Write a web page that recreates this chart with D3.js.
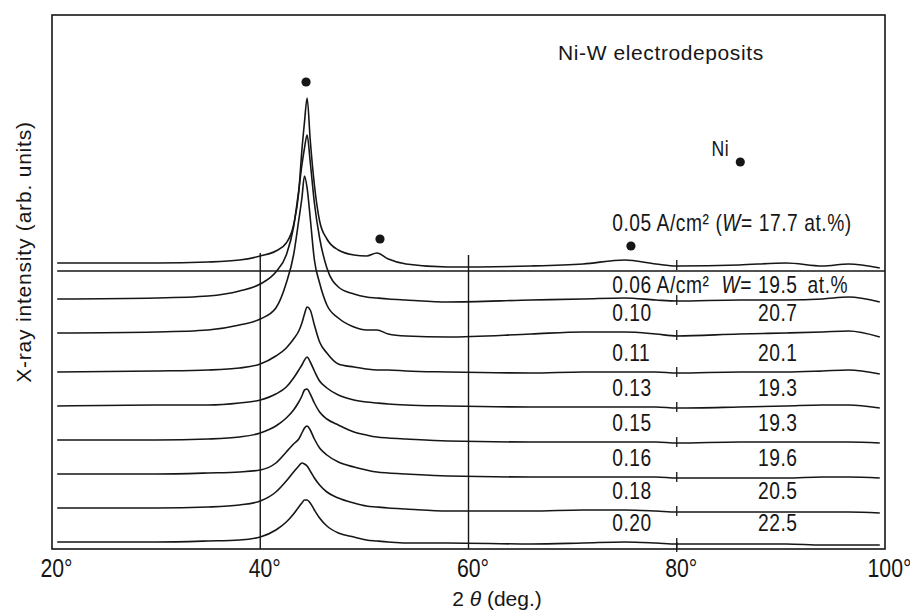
<!DOCTYPE html>
<html>
<head>
<meta charset="utf-8">
<script src="https://cdn.jsdelivr.net/npm/d3@7"></script>
<style>
  body { margin: 0; background: #fff; }
  svg text { font-family: "Liberation Sans", Arial, sans-serif; fill: #161616; }
</style>
</head>
<body>
<div id="chart"></div>
<script>
const twoTheta = [20.5, 30, 35, 38, 40, 41.5, 42.5, 43.2, 43.7, 44.0, 44.25, 44.5, 44.8, 45.2, 45.7, 46.4,
  47.5, 49, 50.2, 51.2, 52.3, 54, 58, 66, 71, 75, 78, 80, 86, 90.5, 94, 96.5, 99.5];

// current density (A/cm2) and W content (at.%) of each deposit, top to bottom
const densities = ["0.05", "0.06", "0.10", "0.11", "0.13", "0.15", "0.16", "0.18", "0.20"];
const wContent = ["17.7", "19.5", "20.7", "20.1", "19.3", "19.3", "19.6", "20.5", "22.5"];

// intensity, arb. units (scans are stacked, offset already in)
const scan005 = [286, 286, 287, 289, 293, 298, 306, 324, 357, 399, 427, 451, 409, 364, 328, 310,
  299, 294, 293, 296, 290, 285, 282, 283, 285, 289, 285, 283, 284, 286, 283, 285, 281];
const scan006 = [250, 251, 253, 258, 265, 277, 294, 322, 359, 384, 401, 414, 387, 346, 311, 281,
  262, 255, 252, 251, 250, 249, 247, 249, 250, 251, 249, 248, 249, 249, 250, 252, 247];
const scan010 = [216, 217, 219, 224, 230, 241, 266, 294, 329, 351, 373, 361, 331, 289, 266, 244,
  231, 222, 219, 219, 215, 213, 212, 215, 217, 217, 215, 213, 215, 216, 217, 218, 212];
const scan011 = [177, 178, 179, 181, 185, 193, 201, 210, 218, 226, 235, 242, 239, 224, 207, 196,
  185, 182, 180, 179, 179, 178, 177, 176, 177, 177, 177, 176, 177, 177, 178, 179, 175];
const scan013 = [143, 144, 144, 146, 149, 155, 162, 171, 179, 184, 189, 192, 187, 178, 168, 161,
  154, 149, 147, 146, 145, 144, 143, 142, 142, 142, 142, 141, 142, 143, 144, 144, 141];
const scan015 = [109, 109, 110, 112, 116, 123, 131, 139, 147, 153, 159, 160, 155, 146, 137, 130,
  124, 117, 114, 112, 111, 110, 108, 107, 107, 107, 107, 106, 107, 107, 107, 107, 106];
const scan016 = [75, 75, 76, 77, 79, 86, 97, 105, 110, 116, 121, 123, 119, 110, 101, 94,
  87, 82, 79, 77, 76, 75, 73, 72, 72, 72, 72, 71, 71, 71, 72, 72, 71];
const scan018 = [41, 41, 42, 44, 48, 57, 68, 77, 83, 86, 85, 83, 78, 71, 64, 57,
  51, 46, 43, 42, 41, 40, 38, 38, 39, 39, 38, 37, 37, 37, 37, 37, 36];
const scan020 = [7, 7, 8, 9, 12, 19, 27, 35, 42, 46, 49, 49, 46, 39, 31, 23,
  16, 12, 9, 8, 7, 6, 6, 5, 6, 7, 6, 5, 5, 5, 4, 4, 4];
const scans = [scan005, scan006, scan010, scan011, scan013, scan015, scan016, scan018, scan020];

// Ni reflections marked on the top scan
const niPeakTheta = [44.4, 51.5, 75.6];
const niPeakLevel = [467, 310, 303];

// straight reference line under the top scan, and the guide lines
const refLevel = 278;
const guideTheta = [40, 60];
const guideTop = [296, 294];
const markTheta = 80;

const xTicks = [20, 40, 60, 80, 100];

// canvas
const width = 910;
const height = 615;
const plotLeft = 52, plotRight = 885, plotTop = 15, plotBottom = 549;

const svg = d3.select("#chart")
  .append("svg")
  .attr("width", width)
  .attr("height", height);

const x = d3.scaleLinear().domain([20, 100]).range([plotLeft, plotRight]);
const y = d3.scaleLinear().domain([0, 534]).range([plotBottom, plotTop]);

const ink = "#161616";

// the figure's lettering is a narrow plotter face, so squeeze Liberation Sans a bit
function label(px, py, size, anchor) {
  return svg.append("text")
    .attr("transform", `translate(${px},${py}) scale(0.8,1)`)
    .attr("text-anchor", anchor || "start")
    .style("font-size", size + "px")
    .style("letter-spacing", "0.7px");
}

// frame
svg.append("rect")
  .attr("x", plotLeft)
  .attr("y", plotTop)
  .attr("width", plotRight - plotLeft)
  .attr("height", plotBottom - plotTop)
  .attr("fill", "none")
  .attr("stroke", ink)
  .attr("stroke-width", 1.6);

// x axis labels
const xAxis = svg.append("g")
  .attr("transform", `translate(0,${plotBottom})`)
  .call(d3.axisBottom(x).tickValues(xTicks).tickSize(0).tickPadding(0)
    .tickFormat(d => d + "°"));
xAxis.select(".domain").remove();
xAxis.selectAll("text")
  .attr("y", 0)
  .attr("dy", 0)
  .attr("transform", "translate(4,28) scale(0.85,1)")
  .style("font-size", "25px")
  .attr("fill", ink);

// guide lines at 40 and 60 deg
svg.selectAll(".guide")
  .data(guideTheta)
  .enter().append("line")
  .attr("class", "guide")
  .attr("x1", d => x(d))
  .attr("x2", d => x(d))
  .attr("y1", (d, i) => y(guideTop[i]))
  .attr("y2", plotBottom)
  .attr("stroke", ink)
  .attr("stroke-width", 1.4);

// reference line
svg.append("line")
  .attr("x1", x(twoTheta[0]))
  .attr("x2", plotRight)
  .attr("y1", y(refLevel))
  .attr("y2", y(refLevel))
  .attr("stroke", ink)
  .attr("stroke-width", 1.6);

// scans
const line = d3.line()
  .x((d, i) => x(twoTheta[i]))
  .y(d => y(d))
  .curve(d3.curveMonotoneX);

svg.selectAll(".scan")
  .data(scans)
  .enter().append("path")
  .attr("class", "scan")
  .attr("d", line)
  .attr("fill", "none")
  .attr("stroke", ink)
  .attr("stroke-width", 1.6)
  .attr("stroke-linejoin", "round");

// short marks where each scan crosses 80 deg
const markIndex = twoTheta.indexOf(markTheta);
svg.selectAll(".mark")
  .data(scans)
  .enter().append("line")
  .attr("class", "mark")
  .attr("x1", x(markTheta))
  .attr("x2", x(markTheta))
  .attr("y1", d => y(d[markIndex]) - 6)
  .attr("y2", d => y(d[markIndex]) + 4)
  .attr("stroke", ink)
  .attr("stroke-width", 1.3);
svg.append("line")
  .attr("x1", x(markTheta))
  .attr("x2", x(markTheta))
  .attr("y1", plotBottom - 7)
  .attr("y2", plotBottom + 3)
  .attr("stroke", ink)
  .attr("stroke-width", 1.3);

// Ni peak markers
svg.selectAll(".ni")
  .data(niPeakTheta)
  .enter().append("circle")
  .attr("class", "ni")
  .attr("cx", d => x(d))
  .attr("cy", (d, i) => y(niPeakLevel[i]))
  .attr("r", 4.6)
  .attr("fill", ink);

// legend for the markers
svg.append("circle")
  .attr("cx", x(86.1))
  .attr("cy", y(387))
  .attr("r", 4.6)
  .attr("fill", ink);
label(x(86.1) - 11, y(387) - 6, 22, "end").text("Ni");

svg.append("text")
  .attr("x", x(68.6))
  .attr("y", y(489))
  .style("font-size", "21px")
  .style("letter-spacing", "0.6px")
  .text("Ni-W electrodeposits");

// labels for each scan
const labelIndex = twoTheta.indexOf(75);
const colLeft = x(73.8);
const colRight = x(91.6);

const top1 = label(colLeft, y(scan005[labelIndex]) - 29, 24);
top1.append("tspan").text(densities[0] + " A/cm² (");
top1.append("tspan").style("font-style", "italic").text("W");
top1.append("tspan").text("= " + wContent[0] + " at.%)");

const y006 = y(scan006[labelIndex]) - 5;
label(colLeft, y006, 24).text(densities[1] + " A/cm²");
const w006 = label(colRight, y006, 24, "end");
w006.append("tspan").style("font-style", "italic").text("W");
w006.append("tspan").text("= " + wContent[1]);
label(colRight + 10, y006, 24).text("at.%");

d3.range(2, scans.length).forEach(i => {
  const base = y(scans[i][labelIndex]) - 11;
  label(colLeft, base, 24).text(densities[i]);
  label(colRight, base, 24, "end").text(wContent[i]);
});

// axis titles
const xTitle = svg.append("text")
  .attr("x", 497)
  .attr("y", 606)
  .attr("text-anchor", "middle")
  .style("font-size", "21px");
xTitle.append("tspan").text("2 ");
xTitle.append("tspan").style("font-style", "italic").text("θ");
xTitle.append("tspan").text(" (deg.)");

svg.append("text")
  .attr("transform", `translate(31,252) rotate(-90)`)
  .attr("text-anchor", "middle")
  .style("font-size", "21px")
  .style("letter-spacing", "0.8px")
  .text("X-ray intensity (arb. units)");
</script>
</body>
</html>
